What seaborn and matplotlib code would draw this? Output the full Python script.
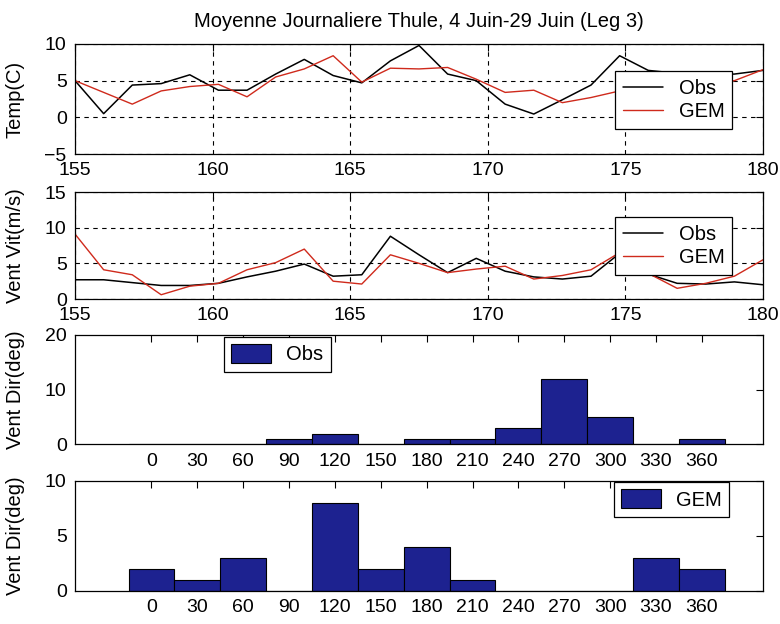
import matplotlib
matplotlib.use("Agg")
import matplotlib.pyplot as plt
from matplotlib.patches import Patch
import seaborn as sns
import pandas as pd

# Day of year for each daily mean (4 June = 155 ... 29 June = 180)
days = [155.00, 156.04, 157.08, 158.13, 159.17, 160.21, 161.25, 162.29,
        163.33, 164.38, 165.42, 166.46, 167.50, 168.54, 169.58, 170.63,
        171.67, 172.71, 173.75, 174.79, 175.83, 176.88, 177.92, 178.96,
        180.00]

obs_temp = [5.0, 0.5, 4.4, 4.6, 5.8, 3.7, 3.7, 5.9, 7.9, 5.7, 4.7, 7.7, 9.8,
            5.9, 5.0, 1.8, 0.45, 2.4, 4.4, 8.4, 6.4, 6.0, 5.8, 5.9, 6.4]
gem_temp = [5.0, 3.4, 1.8, 3.6, 4.2, 4.5, 2.8, 5.5, 6.6, 8.4, 4.8, 6.7, 6.6,
            6.8, 5.2, 3.4, 3.7, 2.0, 2.7, 3.6, 3.9, 4.3, 4.6, 5.0, 6.5]

obs_wind = [2.7, 2.7, 2.3, 1.9, 1.9, 2.2, 3.1, 3.9, 4.9, 3.2, 3.4, 8.8, 6.2,
            3.7, 5.7, 3.9, 3.1, 2.8, 3.2, 6.4, 3.5, 2.2, 2.1, 2.4, 2.0]
gem_wind = [9.1, 4.1, 3.4, 0.6, 1.8, 2.2, 4.1, 5.1, 7.0, 2.5, 2.1, 6.2, 5.0,
            3.7, 4.2, 4.6, 2.8, 3.3, 4.1, 6.5, 3.6, 1.5, 2.2, 3.2, 5.5]

# Wind direction histogram: bin centres (deg) and counts
dir_bins = [0, 30, 60, 90, 120, 150, 180, 210, 240, 270, 300, 330, 360]
obs_dir_counts = [0, 0, 0, 1, 2, 0, 1, 1, 3, 12, 5, 0, 1]
gem_dir_counts = [2, 1, 3, 0, 8, 2, 4, 1, 0, 0, 0, 3, 2]

day_ticks = [155, 160, 165, 170, 175, 180]

sns.set_style("white", {
    "axes.edgecolor": "black",
    "xtick.direction": "in",
    "ytick.direction": "in",
})
plt.rcParams["font.family"] = ["Liberation Sans", "DejaVu Sans"]
plt.rcParams["axes.linewidth"] = 0.9
plt.rcParams["text.color"] = "black"
plt.rcParams["axes.labelcolor"] = "black"
plt.rcParams["axes.titlecolor"] = "black"
plt.rcParams["xtick.color"] = "black"
plt.rcParams["ytick.color"] = "black"

FS = 14.5
TICK_FS = 14
OBS_COLOR = "black"
GEM_COLOR = "#cf2a1c"
BAR_COLOR = "#1d2290"

fig = plt.figure(figsize=(7.8, 6.24), dpi=100)
left, width = 0.0962, 0.882
ax1 = fig.add_axes([left, 0.7532, width, 0.1763])
ax2 = fig.add_axes([left, 0.5208, width, 0.1715])
ax3 = fig.add_axes([left, 0.2877, width, 0.1755])
ax4 = fig.add_axes([left, 0.0529, width, 0.1763])

line_df = pd.DataFrame({
    "day": days,
    "obs_temp": obs_temp, "gem_temp": gem_temp,
    "obs_wind": obs_wind, "gem_wind": gem_wind,
})


def style_axes(ax):
    ax.tick_params(axis="both", which="both", direction="in", length=5,
                   width=0.8, top=True, right=True, labelsize=TICK_FS,
                   pad=6, colors="black", labelcolor="black")
    for s in ax.spines.values():
        s.set_visible(True)
        s.set_color("black")
        s.set_linewidth(0.9)


def frame_legend(leg):
    leg.get_frame().set_edgecolor("black")
    leg.get_frame().set_linewidth(0.9)
    leg.get_frame().set_alpha(1)
    for t in leg.get_texts():
        t.set_color("black")


def line_panel(ax, obs_col, gem_col, ylim, yticks, ylabel, anchor):
    sns.lineplot(data=line_df, x="day", y=obs_col, ax=ax, color=OBS_COLOR,
                 linewidth=1.1, label="Obs", sort=False)
    sns.lineplot(data=line_df, x="day", y=gem_col, ax=ax, color=GEM_COLOR,
                 linewidth=1.0, label="GEM", sort=False)
    ax.set_xlim(155, 180)
    ax.set_ylim(*ylim)
    ax.set_xticks(day_ticks)
    ax.set_yticks(yticks)
    ax.set_xlabel("")
    ax.set_ylabel(ylabel, fontsize=FS, color="black")
    ax.yaxis.set_label_coords(-0.073, 0.5)
    ax.grid(True, color="black", linestyle=(0, (4, 4)), linewidth=0.8)
    style_axes(ax)
    leg = ax.legend(loc="upper left", bbox_to_anchor=anchor, borderaxespad=0,
                    fontsize=FS, frameon=True, fancybox=False, shadow=False,
                    handlelength=2.0, handletextpad=0.75, labelspacing=0.2,
                    borderpad=0.4)
    frame_legend(leg)


def hist_panel(ax, counts, ylim, yticks, label, anchor):
    sns.barplot(x=dir_bins, y=counts, ax=ax, native_scale=True, width=1,
                color=BAR_COLOR, saturation=1, edgecolor="black",
                linewidth=0.8, errorbar=None)
    ax.set_xlim(-50, 400)
    ax.set_ylim(*ylim)
    ax.set_xticks(dir_bins)
    ax.set_xticklabels([str(b) for b in dir_bins])
    ax.set_yticks(yticks)
    ax.set_xlabel("")
    ax.set_ylabel("Vent Dir(deg)", fontsize=FS, color="black")
    ax.yaxis.set_label_coords(-0.073, 0.5)
    ax.grid(False)
    style_axes(ax)
    handle = Patch(facecolor=BAR_COLOR, edgecolor="black", linewidth=0.8)
    leg = ax.legend([handle], [label], loc="upper left", bbox_to_anchor=anchor,
                    borderaxespad=0, fontsize=FS, frameon=True, fancybox=False,
                    handlelength=2.0, handleheight=1.1, handletextpad=0.75,
                    borderpad=0.35)
    frame_legend(leg)


line_panel(ax1, "obs_temp", "gem_temp", (-5, 10), [-5, 0, 5, 10], "Temp(C)",
           (0.785, 0.755))
line_panel(ax2, "obs_wind", "gem_wind", (0, 15), [0, 5, 10, 15],
           "Vent Vit(m/s)", (0.785, 0.767))
hist_panel(ax3, obs_dir_counts, (0, 20), [0, 10, 20], "Obs", (0.2166, 0.982))
hist_panel(ax4, gem_dir_counts, (0, 10), [0, 5, 10], "GEM", (0.7834, 0.991))

ax1.set_title("Moyenne Journaliere Thule, 4 Juin-29 Juin (Leg 3)",
              fontsize=FS, pad=12, color="black")

fig.savefig("out.png", dpi=100)
